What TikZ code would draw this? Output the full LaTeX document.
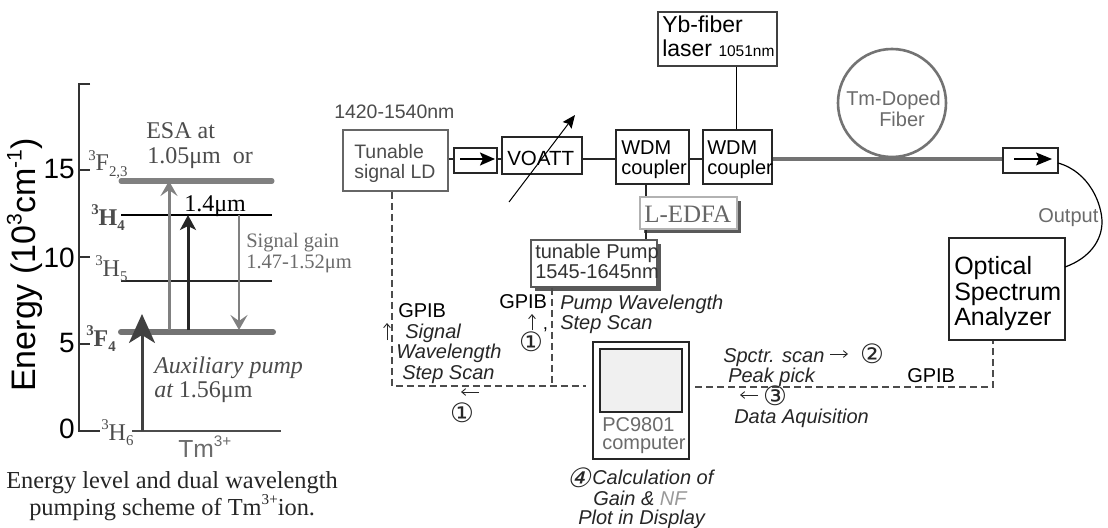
\documentclass[tikz,border=0pt]{standalone}
\usepackage{fontspec}
\setmainfont{Liberation Sans}
\newfontfamily\tms{Liberation Serif}
\newfontfamily\djv{DejaVu Sans}
\usetikzlibrary{arrows.meta,shadows,calc}
\newlength\px \setlength\px{0.75pt}
\newcommand\fz[1]{\fontsize{#1}{#1}\selectfont}
\newcommand\upx[1]{\raisebox{.42em}{\scalebox{.62}{#1}}}
\newcommand\dnx[1]{\raisebox{-.22em}{\scalebox{.62}{#1}}}
\definecolor{txa}{gray}{0.3}
\definecolor{txb}{gray}{0.42}
\tikzset{
  lbl/.style={inner sep=0pt,anchor=base west},
  rom/.style={lbl,font=\tms\fz{18},text=txa},
  sans/.style={lbl,font=\fz{15}},
  ital/.style={lbl,font=\itshape\fz{15},text=black!85},
  num/.style={inner sep=0pt,anchor=base east,font=\fz{21}},
  tiny/.style={line width=0.9\px,black!85,-{Straight Barb[length=3pt,width=5pt]}},
  circ/.style={inner sep=0pt,font=\djv\fz{20},text=black!85},
  box/.style={draw=black!85,line width=1.5\px,inner sep=0pt,fill=white},
  wire/.style={draw=black!85,line width=1.3\px},
  gpib/.style={draw=black!70,line width=1.2\px,dash pattern=on 7\px off 4\px},
  level/.style={line width=#1\px},
  shad/.style={general shadow={fill=black!65,shadow xshift=3.5\px,shadow yshift=-3.5\px}},
}
\begin{document}
\begin{tikzpicture}[x=0.75pt,y=-0.75pt]
\useasboundingbox (0,0) rectangle (1108,528);
\fill[white] (0,0) rectangle (1108,528);
% --- energy diagram ---
\coordinate (axT) at (79,84);
\coordinate (axB) at (79,431);
\coordinate (axTe) at (90,84);
\coordinate (t15) at (79,170); \coordinate (t15e) at (90,170);
\coordinate (t10) at (79,257); \coordinate (t10e) at (90,257);
\coordinate (t5) at (79,344);  \coordinate (t5e) at (90,344);
\coordinate (t0e) at (100,431);
\draw[black!80,line width=1.4\px] (axTe) -- (axT) -- (axB) -- (t0e);
\draw[black!80,line width=1.2\px] (t15) -- (t15e) (t10) -- (t10e) (t5) -- (t5e);
\node[num] (n15) at (75,178) {15};
\node[num] (n10) at (75,267) {10};
\node[num] (n5) at (75,352) {5};
\node[num] (n0) at (75,438) {0};
\node[inner sep=0pt,anchor=base,rotate=90,font=\fz{25.5}] (elab) at (36,265) {Energy (10\upx{3}cm\upx{-1})};
% levels
\coordinate (f23a) at (121,181); \coordinate (f23b) at (272,181);
\coordinate (h4a) at (121,215); \coordinate (h4b) at (272,215);
\coordinate (h5a) at (121,281); \coordinate (h5b) at (272,281);
\coordinate (f4a) at (121,332); \coordinate (f4b) at (273,332);
\coordinate (h6a) at (132,431); \coordinate (h6b) at (281,431);
\draw[level=5,black!50,line cap=round] (f23a) -- (f23b);
\draw[level=2,black] (h4a) -- (h4b);
\draw[level=1.5,black!85] (h5a) -- (h5b);
\draw[level=6,black!55,line cap=round] (f4a) -- (f4b);
\draw[level=2,black!70] (h6a) -- (h6b);
% transitions
\coordinate (ea) at (169,330); \coordinate (eb) at (169,181);
\coordinate (pa) at (188,330); \coordinate (pb) at (188,215);
\coordinate (sa) at (239,215); \coordinate (sb) at (239,330);
\coordinate (xa) at (142,431); \coordinate (xb) at (142,314);
\draw[-{Stealth[length=11.25pt,width=12.75pt,inset=4.5pt]},level=3,black!50] (ea) -- (eb);
\draw[-{Stealth[length=11.25pt,width=12pt,inset=3pt]},level=3,black!85] (pa) -- (pb);
\draw[-{Stealth[length=11.25pt,width=12.75pt,inset=4.5pt]},level=2.5,black!50] (sa) -- (sb);
\draw[-{Stealth[length=21.75pt,width=19.5pt,inset=6pt]},level=3,black!75] (xa) -- (xb);
% level texts
\node[rom] (esa) at (146,138) {ESA at};
\node[rom] (esb) at (147,163) {1.05μm\ \ or};
\node[rom] (lf23) at (88,171) {\upx{3}F\dnx{2,3}};
\node[rom,text=black] (l14) at (184,211) {1.4μm};
\node[rom,font=\tms\bfseries\fz{18}] (lh4) at (91,225) {\upx{3}H\dnx{4}};
\node[rom] (lh5) at (95,276) {\upx{3}H\dnx{5}};
\node[rom,font=\tms\fz{15.4},text=txb] (sga) at (246,247) {Signal gain};
\node[rom,font=\tms\fz{15.4},text=txb] (sgb) at (246,268) {1.47-1.52μm};
\node[rom,font=\tms\bfseries\fz{18}] (lf4) at (86,346) {\upx{3}F\dnx{4}};
\node[rom,font=\tms\itshape\fz{18}] (auxa) at (154,373) {Auxiliary pump};
\node[rom] (auxb) at (154,397) {\itshape at \upshape 1.56μm};
\node[rom] (lh6) at (101,440) {\upx{3}H\dnx{6}};
\node[lbl,font=\fz{18.5},text=txb] (tm) at (178,457) {Tm\upx{3+}};
\node[rom,text=black!85,font=\tms\fz{18.3}] (capa) at (6,488) {Energy level and dual wavelength};
\node[rom,text=black!85,font=\tms\fz{18.3}] (capb) at (29,515) {pumping scheme of Tm\upx{3+}ion.};
% --- setup boxes ---
\node[box,minimum width=105\px,minimum height=61\px,draw=black!60] (ld) at (395.5,160.5) {};
\node[box,minimum width=43\px,minimum height=25\px] (iso1) at (475.5,160.5) {};
\node[box,minimum width=80\px,minimum height=37\px] (voa) at (542,155.5) {};
\node[box,minimum width=73\px,minimum height=54\px] (wdma) at (652.5,157) {};
\node[box,minimum width=69\px,minimum height=54\px] (wdmb) at (737.5,157) {};
\node[box,minimum width=119\px,minimum height=54\px,draw=black!75] (yb) at (717.5,39) {};
\node[box,shad,minimum width=97\px,minimum height=32\px,draw=black!30] (edfa) at (688.5,213) {};
\node[box,shad,minimum width=126\px,minimum height=47\px,draw=black!65] (pump) at (594,263.5) {};
\node[draw=black!55,line width=2.6\px,circle,minimum size=108\px,inner sep=0pt] (fiber) at (892,103) {};
\node[box,minimum width=55\px,minimum height=25\px] (iso2) at (1030.5,160.5) {};
\node[box,minimum width=116\px,minimum height=102\px] (osa) at (1007,289) {};
\node[box,minimum width=96\px,minimum height=117\px] (pc) at (641,400.5) {};
\node[draw=black!85,line width=1.8\px,fill=black!6,minimum width=82\px,minimum height=63\px,inner sep=0pt] (scr) at (641,380.5) {};
% --- optical connectors ---
\coordinate (m1) at (0,159);
\draw[wire] (ld.east |- m1) -- (iso1.west |- m1);
\draw[wire] (iso1.east |- m1) -- (voa.west |- m1);
\draw[wire] (voa.east |- m1) -- (wdma.west |- m1);
\draw[wire] (wdma.east |- m1) -- (wdmb.west |- m1);
\coordinate (ybx) at (736,0);
\draw[line width=1\px,black] (yb.south -| ybx) -- (wdmb.north -| ybx);
\coordinate (edx) at (646,0);
\draw[wire] (wdma.south -| edx) -- (edfa.north -| edx);
\draw[wire] (edfa.south -| edx) -- (pump.north -| edx);
\draw[line width=3.5\px,black!55] (wdmb.east |- m1) -- (iso2.west |- m1);
\coordinate (cs) at (1058,163);
\coordinate (ce) at (1065,267);
\draw[line width=1.2\px,black] (cs) .. controls (1090,172) and (1102,205) .. (1102,222) .. controls (1102,240) and (1090,258) .. (ce);
% VOA arrow
\coordinate (vs) at (509,202);
\coordinate (ve) at (575,115);
\draw[line width=1\px,black,-{Stealth[length=9.75pt,width=8.25pt,inset=1.5pt]}] (vs) -- (ve);
% isolator arrows
\coordinate (i1a) at (460,159); \coordinate (i1b) at (495,159);
\draw[line width=2\px,black,-{Stealth[length=11.25pt,width=9.75pt,inset=2.25pt]}] (i1a) -- (i1b);
\coordinate (i2a) at (1014,159); \coordinate (i2b) at (1052,159);
\draw[line width=1.2\px,black,-{Stealth[length=12pt,width=9.75pt,inset=2.25pt]}] (i2a) -- (i2b);
% --- GPIB ---
\coordinate (ldx) at (392,386);
\coordinate (pmx) at (552,386);
\coordinate (pcl) at (586,386);
\coordinate (pcr) at (695,387);
\coordinate (osx) at (993,387);
\draw[gpib] (ld.south -| ldx) -- (ldx) -- (pcl);
\draw[gpib] (pump.south -| pmx) -- (pmx);
\draw[gpib] (pcr) -- (osx) -- (osa.south -| osx);
% small direction arrows
\coordinate (a1s) at (387,340); \coordinate (a1e) at (387,323);
\coordinate (a2s) at (532,330); \coordinate (a2e) at (532,314);
\coordinate (a3s) at (479,392); \coordinate (a3e) at (461,392);
\coordinate (a4s) at (830,354); \coordinate (a4e) at (848,354);
\coordinate (a5s) at (758,395); \coordinate (a5e) at (740,395);
\draw[tiny] (a1s) -- (a1e);
\draw[tiny] (a2s) -- (a2e);
\draw[tiny] (a3s) -- (a3e);
\draw[tiny] (a4s) -- (a4e);
\draw[tiny] (a5s) -- (a5e);
% --- setup texts ---
\node[sans,text=txa,font=\fz{14.6}] (wl) at (334,119) {1420-1540nm};
\node[sans,text=txa,font=\fz{14.6}] (lda) at (354,158) {Tunable};
\node[sans,text=txa,font=\fz{14.6}] (ldb) at (354,179) {signal LD};
\node[sans,font=\fz{15.4}] (voat) at (507,166) {VOATT};
\node[sans] (wa1) at (621,155) {WDM};
\node[sans] (wa2) at (621,175) {coupler};
\node[sans] (wb1) at (707,155) {WDM};
\node[sans] (wb2) at (707,175) {coupler};
\node[sans,font=\fz{17.25}] (yb1) at (662,33) {Yb-fiber};
\node[sans,font=\fz{17.25}] (yb2) at (662,57) {laser \fz{11.6}1051nm};
\node[rom,font=\tms\fz{18.75},text=black!60] (edt) at (644,222) {L-EDFA};
\node[sans,text=black!80] (pu1) at (535,258) {tunable Pump};
\node[sans,text=black!80] (pu2) at (535,278) {1545-1645nm};
\node[sans,text=txb] (tmd) at (846,106) {Tm-Doped};
\node[sans,text=txb] (tmf) at (879,127) {Fiber};
\node[sans,text=txb] (outp) at (1038,222) {Output};
\node[sans,font=\fz{18.75}] (os1) at (954,274) {Optical};
\node[sans,font=\fz{18.75}] (os2) at (954,300) {Spectrum};
\node[sans,font=\fz{18.75}] (os3) at (954,325) {Analyzer};
\node[sans] (g1) at (398,317) {GPIB};
\node[ital] (s1) at (405,338) {Signal};
\node[ital] (s2) at (396,358) {Wavelength};
\node[ital] (s3) at (402,379) {Step Scan};
\node[sans] (g2) at (499,308) {GPIB};
\node[circ] (c1p) at (531,342) {①};
\node[lbl,font=\fz{14}] (c1q) at (543,340) {'};
\node[ital] (p1) at (560,309) {Pump Wavelength};
\node[ital] (p2) at (560,329) {Step Scan};
\node[circ] (c1) at (462,413) {①};
\node[sans,text=txb] (pc1) at (602,431) {PC9801};
\node[sans,text=txb] (pc2) at (602,449) {computer};
\node[circ,xslant=0.25] (c4) at (581,478) {④};
\node[ital] (ca1) at (592,484) {Calculation of};
\node[ital] (ca2) at (593,505) {Gain \& \textcolor{black!40}{NF}};
\node[ital] (ca3) at (578,524) {Plot in Display};
\node[ital] (sp) at (723,362) {Spctr. scan};
\node[circ] (c2) at (872,354) {②};
\node[ital] (pk) at (728,382) {Peak pick};
\node[circ] (c3) at (775,396) {③};
\node[ital] (da) at (734,423) {Data Aquisition};
\node[sans] (g3) at (907,382) {GPIB};
\end{tikzpicture}
\end{document}
